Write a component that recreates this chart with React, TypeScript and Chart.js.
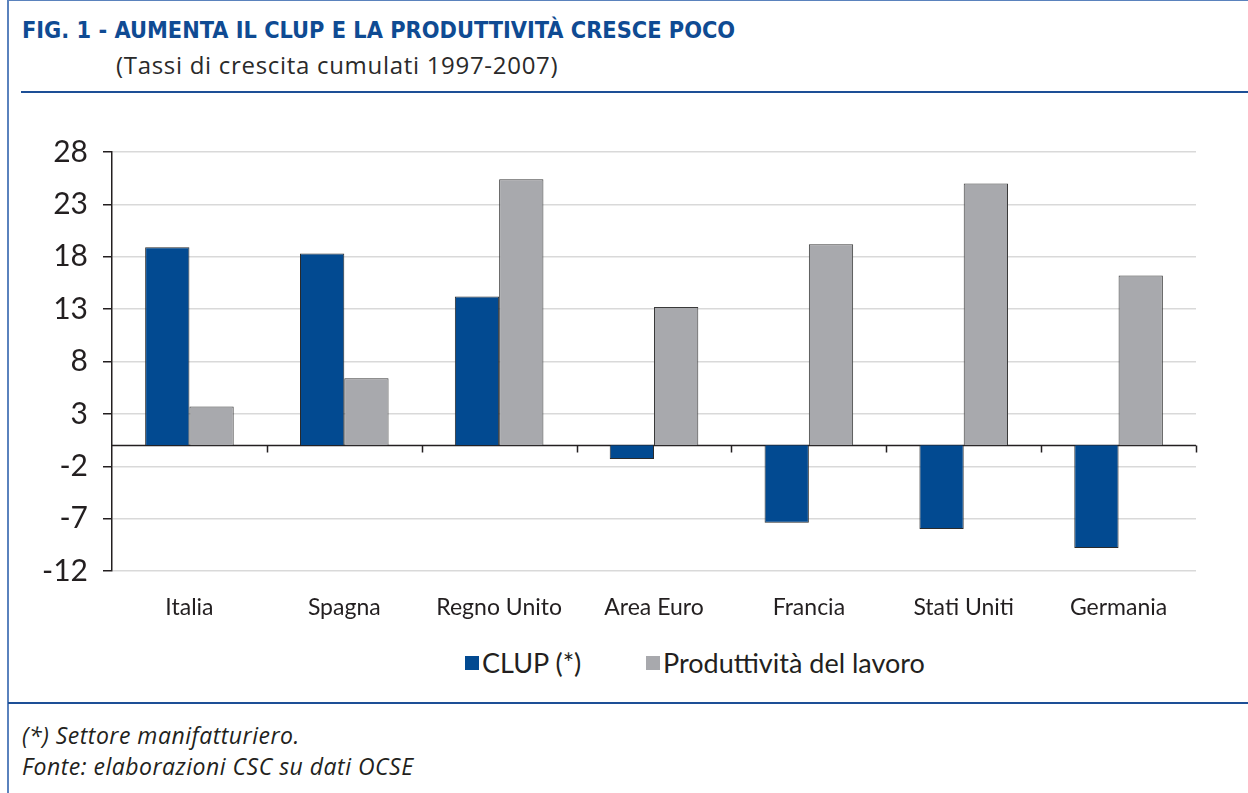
import React, { useEffect, useRef } from "react";
import { Chart, registerables } from "chart.js";

Chart.register(...registerables);

const categories = ["Italia", "Spagna", "Regno Unito", "Area Euro", "Francia", "Stati Uniti", "Germania"];
const clupValues = [18.9, 18.3, 14.2, -1.3, -7.4, -8.0, -9.8];
const productivityValues = [3.7, 6.4, 25.4, 13.2, 19.2, 25.0, 16.2];
const yTicks = [-12, -7, -2, 3, 8, 13, 18, 23, 28];
const seriesNames = ["CLUP (*)", "Produttività del lavoro"];
const seriesColors = ["#024a91", "#a8a9ad"];

const titleText = "FIG. 1 - AUMENTA IL CLUP E LA PRODUTTIVITÀ CRESCE POCO";
const subtitleText = "(Tassi di crescita cumulati 1997-2007)";
const footerLines = ["(*) Settore manifatturiero.", "Fonte: elaborazioni CSC su dati OCSE"];

const FONT = "Lato, 'Open Sans', sans-serif";
const TEXT = "#231f20";
const RULE = "#1d4f96";

const zeroLinePlugin = {
  id: "zeroLine",
  beforeDatasetsDraw(chart: any) {
    const { ctx, chartArea, scales } = chart;
    const y0 = Math.round(scales.y.getPixelForValue(0)) + 0.5;
    const n = categories.length;
    const w = (chartArea.right - chartArea.left) / n;
    ctx.save();
    ctx.strokeStyle = "#231f20";
    ctx.lineWidth = 1.5;
    ctx.beginPath();
    ctx.moveTo(chartArea.left, y0);
    ctx.lineTo(chartArea.right, y0);
    for (let i = 1; i <= n; i++) {
      const x = Math.round(chartArea.left + i * w) + 0.5;
      ctx.moveTo(x, y0);
      ctx.lineTo(x, y0 + 7);
    }
    ctx.stroke();
    ctx.restore();
  },
};

function ChartCanvas() {
  const ref = useRef<HTMLCanvasElement | null>(null);
  useEffect(() => {
    if (!ref.current) return;
    const chart = new Chart(ref.current, {
      type: "bar",
      data: {
        labels: categories,
        datasets: [
          {
            label: seriesNames[0],
            data: clupValues,
            backgroundColor: seriesColors[0],
            borderColor: "#2b2b2b",
            borderWidth: 1,
          },
          {
            label: seriesNames[1],
            data: productivityValues,
            backgroundColor: seriesColors[1],
            borderColor: "#3a3a3a",
            borderWidth: 1,
          },
        ],
      },
      options: {
        responsive: false,
        animation: false,
        datasets: { bar: { barPercentage: 1, categoryPercentage: 0.572 } },
        layout: { padding: { top: 52, right: 52, bottom: 0, left: 0 } },
        plugins: {
          legend: { display: false },
          tooltip: { enabled: false },
          title: { display: false },
        },
        scales: {
          x: {
            grid: { display: false, drawTicks: false },
            border: { display: false },
            ticks: {
              color: TEXT,
              font: { family: FONT, size: 23 },
              padding: 23,
              maxRotation: 0,
              autoSkip: false,
            },
            afterFit(scale: any) {
              scale.height = 59;
            },
          },
          y: {
            min: -12,
            max: 28,
            afterBuildTicks(scale: any) {
              scale.ticks = yTicks.map((v) => ({ value: v }));
            },
            afterFit(scale: any) {
              scale.width = 112;
            },
            grid: {
              color: "#d9d9d9",
              lineWidth: 1.5,
              tickColor: "#231f20",
              tickLength: 9,
              tickWidth: 1.5,
            },
            border: { display: true, color: "#231f20", width: 1.5 },
            ticks: {
              color: TEXT,
              font: { family: FONT, size: 30 },
              padding: 15,
            },
          },
        },
      },
      plugins: [zeroLinePlugin],
    });
    return () => chart.destroy();
  }, []);
  return (
    <canvas
      ref={ref}
      width={1248}
      height={530}
      style={{ position: "absolute", left: 0, top: 100, width: 1248, height: 530 }}
    />
  );
}

export default function App() {
  const legendItem = (i: number, left: number) => (
    <div
      key={i}
      style={{
        position: "absolute",
        left,
        top: 647,
        display: "flex",
        alignItems: "center",
        whiteSpace: "nowrap",
      }}
    >
      <span
        style={{
          display: "inline-block",
          width: 14,
          height: 14,
          background: seriesColors[i],
          marginRight: 3,
        }}
      />
      <span style={{ fontFamily: FONT, fontSize: 27, color: TEXT, lineHeight: "32px" }}>{seriesNames[i]}</span>
    </div>
  );
  return (
    <div
      style={{
        position: "absolute",
        left: 0,
        top: 0,
        width: 1248,
        height: 793,
        overflow: "hidden",
        background: "#fff",
      }}
    >
      <div style={{ position: "absolute", left: 7, top: 0, width: 2, height: 793, background: "#5a82bd" }} />
      <div style={{ position: "absolute", left: 7, top: 0, width: 1241, height: 1, background: "#5a82bd" }} />
      <div
        style={{
          position: "absolute",
          left: 22,
          top: 15,
          fontFamily: "'Liberation Sans Narrow', 'DejaVu Sans Condensed', Roboto, sans-serif",
          fontWeight: 700,
          fontSize: 23.3,
          color: "#0f4b93",
          whiteSpace: "nowrap",
          lineHeight: "30px",
        }}
      >
        {titleText}
      </div>
      <div
        style={{
          position: "absolute",
          left: 116,
          top: 50,
          fontFamily: "'Open Sans', Lato, sans-serif",
          fontSize: 24,
          letterSpacing: 0.7,
          color: "#2a2a2a",
          whiteSpace: "nowrap",
          lineHeight: "30px",
        }}
      >
        {subtitleText}
      </div>
      <div style={{ position: "absolute", left: 21, top: 91, width: 1227, height: 2, background: RULE }} />
      <ChartCanvas />
      {legendItem(0, 465)}
      {legendItem(1, 646)}
      <div style={{ position: "absolute", left: 8, top: 702, width: 1240, height: 2, background: RULE }} />
      {footerLines.map((t, i) => (
        <div
          key={i}
          style={{
            position: "absolute",
            left: 22,
            top: 720 + i * 31,
            fontFamily: "'Open Sans', Lato, sans-serif",
            fontStyle: "italic",
            fontSize: 23,
            letterSpacing: 0.5,
            color: TEXT,
            whiteSpace: "nowrap",
            lineHeight: "30px",
          }}
        >
          {t}
        </div>
      ))}
    </div>
  );
}
